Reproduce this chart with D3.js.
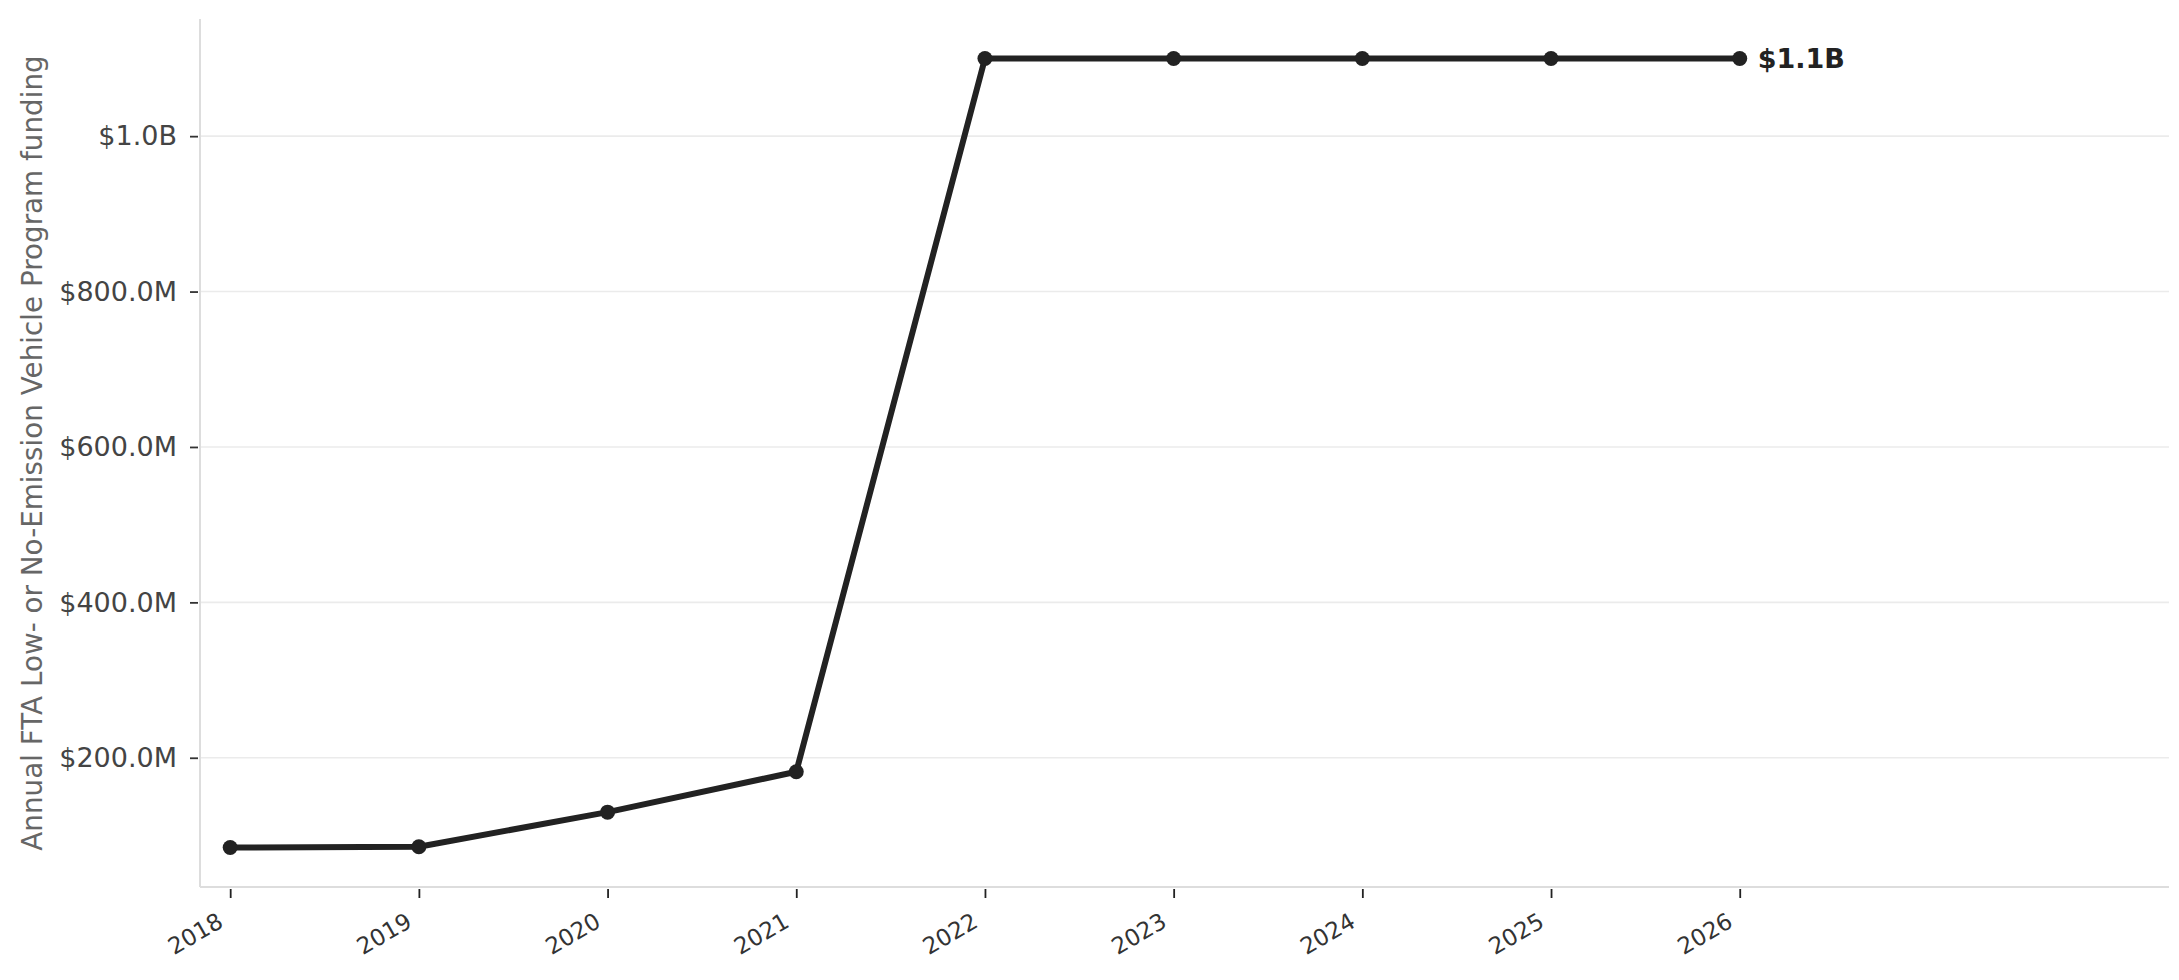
<!DOCTYPE html>
<html>
<head>
<meta charset="utf-8">
<script src="https://cdn.jsdelivr.net/npm/d3@7"></script>
<style>
  html, body { margin: 0; padding: 0; background: #fff; }
  svg text { font-family: "DejaVu Sans", sans-serif; }
</style>
</head>
<body>
<div id="chart"></div>
<script>
const years = [2018, 2019, 2020, 2021, 2022, 2023, 2024, 2025, 2026];
const funding = [84.45e6, 85.5e6, 130e6, 182e6, 1.1e9, 1.1e9, 1.1e9, 1.1e9, 1.1e9];
const yTicks = [200e6, 400e6, 600e6, 800e6, 1e9];
const yLabel = "Annual FTA Low- or No-Emission Vehicle Program funding";

const width = 2179, height = 980;
const margin = { top: 19, right: 10, bottom: 93, left: 200 };

const fmtMoney = v => v >= 1e9 ? `$${(v / 1e9).toFixed(1)}B` : `$${(v / 1e6).toFixed(1)}M`;

const svg = d3.select("#chart").append("svg")
    .attr("width", width).attr("height", height);

const x = d3.scaleLinear()
    .domain([2017.84, 2028.275])
    .range([margin.left, width - margin.right]);

const yMin = d3.min(funding), yMax = d3.max(funding);
const pad = (yMax - yMin) * 0.05;
const y = d3.scaleLinear()
    .domain([yMin - pad, yMax + pad])
    .range([height - margin.bottom, margin.top]);

// gridlines
svg.append("g").selectAll("line").data(yTicks).join("line")
    .attr("x1", margin.left).attr("x2", width - margin.right)
    .attr("y1", d => y(d)).attr("y2", d => y(d))
    .attr("stroke", "#ebebeb").attr("stroke-width", 1.6);

// y axis
const yAxis = svg.append("g")
    .attr("transform", `translate(${margin.left - 2},0)`)
    .call(d3.axisLeft(y).tickValues(yTicks).tickFormat(fmtMoney).tickSize(8).tickPadding(13));
yAxis.select(".domain").remove();
yAxis.selectAll(".tick line").attr("stroke", "#333").attr("stroke-width", 1.8);
yAxis.selectAll(".tick text").attr("fill", "#444").style("font-size", "27px");

// x axis
const xAxis = svg.append("g")
    .attr("transform", `translate(0,${height - margin.bottom + 2})`)
    .call(d3.axisBottom(x).tickValues(years).tickFormat(d3.format("d")).tickSize(9));
xAxis.select(".domain").remove();
xAxis.selectAll(".tick line").attr("stroke", "#222").attr("stroke-width", 1.8);
xAxis.selectAll(".tick text")
    .attr("fill", "#333").style("font-size", "23px")
    .attr("text-anchor", "end")
    .attr("x", 0).attr("y", 0).attr("dy", "0.35em")
    .attr("transform", "translate(-10,30) rotate(-30)");

// spines
svg.append("line")
    .attr("x1", margin.left).attr("x2", margin.left)
    .attr("y1", margin.top).attr("y2", height - margin.bottom)
    .attr("stroke", "#dddddd").attr("stroke-width", 2);
svg.append("line")
    .attr("x1", margin.left).attr("x2", width - margin.right)
    .attr("y1", height - margin.bottom).attr("y2", height - margin.bottom)
    .attr("stroke", "#dddddd").attr("stroke-width", 2);

// y label
svg.append("text")
    .attr("transform", `translate(32,${(margin.top + height - margin.bottom) / 2}) rotate(-90)`)
    .attr("text-anchor", "middle").attr("dominant-baseline", "central")
    .attr("fill", "#666").style("font-size", "27.8px")
    .text(yLabel);

// line + points
const pts = years.map((yr, i) => ({ year: yr, value: funding[i] }));
svg.append("path").datum(pts)
    .attr("fill", "none").attr("stroke", "#222").attr("stroke-width", 6)
    .attr("stroke-linejoin", "round")
    .attr("d", d3.line().x(d => x(d.year)).y(d => y(d.value)));
svg.append("g").selectAll("circle").data(pts).join("circle")
    .attr("cx", d => x(d.year)).attr("cy", d => y(d.value)).attr("r", 7.5)
    .attr("fill", "#222");

// end label
const last = pts[pts.length - 1];
svg.append("text")
    .attr("x", x(last.year) + 18).attr("y", y(last.value))
    .attr("dominant-baseline", "central")
    .attr("fill", "#222").style("font-size", "27px").style("font-weight", "bold")
    .text(fmtMoney(last.value));
</script>
</body>
</html>
